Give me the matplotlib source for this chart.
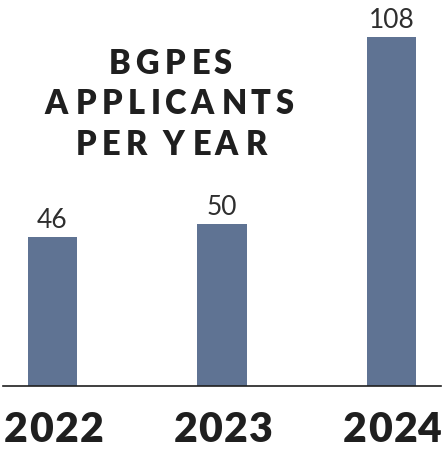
import matplotlib
matplotlib.use("Agg")
import matplotlib.pyplot as plt
from matplotlib import font_manager
from matplotlib.font_manager import FontProperties
from matplotlib.ft2font import FT2Font

years = ["2022", "2023", "2024"]
applicants = [46, 50, 108]
title_lines = ["BGPES", "APPLICANTS", "PER YEAR"]

BAR = "#5f7393"
INK = "#1f1f1f"
W, H, DPI = 442, 449, 100

plt.rcParams["font.family"] = ["Lato", "DejaVu Sans"]

fig = plt.figure(figsize=(W / DPI, H / DPI), dpi=DPI)
ax = fig.add_axes([3 / W, 63 / H, 438 / W, 386 / H])
x = list(range(len(years)))
bars = ax.bar(x, applicants, width=0.29, color=BAR)
ax.set_xlim(-0.292, 2.292)
ax.set_ylim(0, 119.5)

for b, v in zip(bars, applicants):
    ax.annotate(str(v), (b.get_x() + b.get_width() / 2, v), xytext=(0, 6.5),
                textcoords="offset points", ha="center", va="baseline",
                fontsize=19, color="#2e2e2e", fontweight="normal")

ax.set_xticks([])
ax.set_yticks([])
for s in ["top", "right", "left"]:
    ax.spines[s].set_visible(False)
ax.spines["bottom"].set_color(INK)
ax.spines["bottom"].set_linewidth(1.2)


def advances(s, prop):
    f = FT2Font(font_manager.findfont(prop))
    f.set_size(prop.get_size_in_points(), DPI)
    out = []
    for c in s:
        g = f.load_char(ord(c))
        out.append((g.linearHoriAdvance / 65536, g.horiBearingX / 64))
    return out


def tracked(s, cx, y, prop, track, color, va="baseline"):
    adv = advances(s, prop)
    total = sum(a for a, _ in adv) + track * (len(s) - 1)
    px = cx - total / 2
    for c, (a, bx) in zip(s, adv):
        if c != " ":
            fig.text((px + bx) / W, 1 - y / H, c, fontproperties=prop,
                     ha="left", va=va, color=color)
        px += a + track


# title with letter spacing
tprop = FontProperties(family=["Lato"], weight="heavy", size=23.5)
nat = sum(a for a, _ in advances("APPLICANTS", tprop))
track = (249 - nat) / 9
for line, base in zip(title_lines, [74, 114.5, 155]):
    tracked(line, 169, base, tprop, track, INK)

# year labels under bars
yprop = FontProperties(family=["Lato"], weight="heavy", size=29.5)
for xi, yr in zip(x, years):
    cx = ax.transData.transform((xi, 0))[0]
    tracked(yr, cx, 448.5, yprop, 1.5, INK, va="bottom")

fig.savefig("out.png", dpi=DPI)
